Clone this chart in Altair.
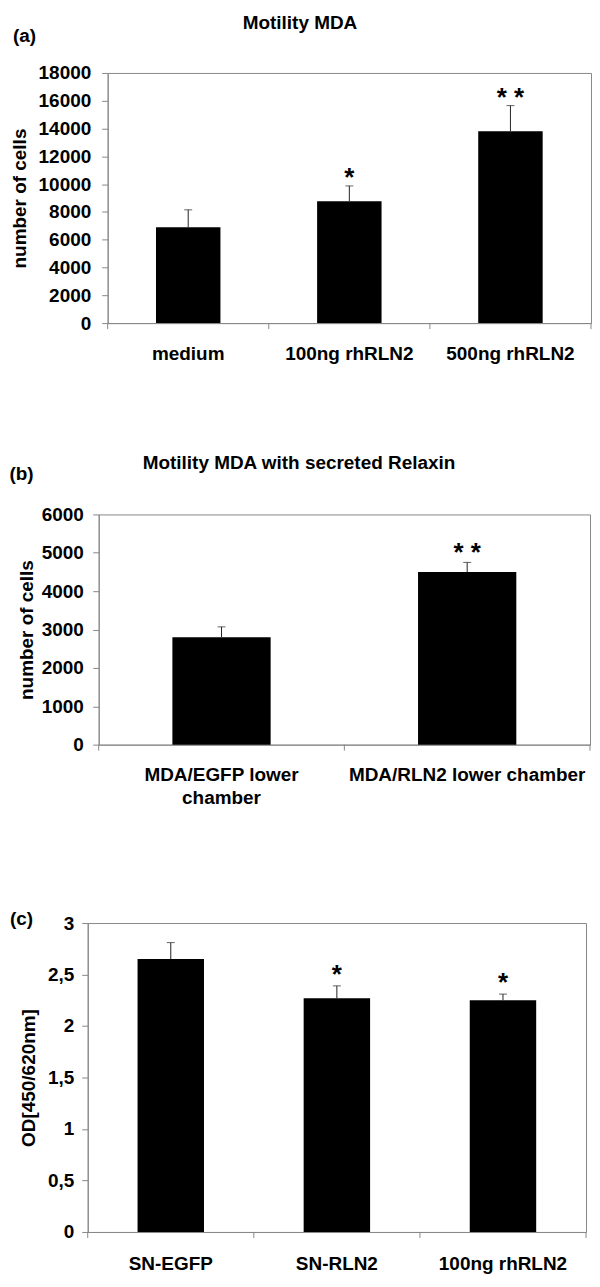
import altair as alt
import pandas as pd

FONT = "Liberation Sans"
GRAY = "#888888"

# ---------------- data ----------------
# (a) Motility MDA
cats_a = ["medium", "100ng rhRLN2", "500ng rhRLN2"]
vals_a = [6900, 8770, 13800]
errs_a = [8150, 9870, 15650]          # top of the error bar
stars_a = ["", "*", "* *"]
yticks_a = [0, 2000, 4000, 6000, 8000, 10000, 12000, 14000, 16000, 18000]

# (b) Motility MDA with secreted Relaxin
cats_b = ["MDA/EGFP lower|chamber", "MDA/RLN2 lower chamber"]
vals_b = [2800, 4500]
errs_b = [3070, 4750]
stars_b = ["", "* *"]
yticks_b = [0, 1000, 2000, 3000, 4000, 5000, 6000]

# (c) OD
cats_c = ["SN-EGFP", "SN-RLN2", "100ng rhRLN2"]
vals_c = [2.65, 2.27, 2.25]
errs_c = [2.81, 2.39, 2.31]
stars_c = ["", "*", "*"]
yticks_c = [0, 0.5, 1, 1.5, 2, 2.5, 3]


def panel(cats, vals, errs, stars, yticks, width, height, y_title,
          y_fmt, y_label_expr, y_lab_pad, y_title_pad, x_lab_pad, star_dy,
          title, title_pos, tag, tag_pos):
    df = pd.DataFrame({"cat": cats, "val": vals, "err": errs, "star": stars})
    step = width / len(cats)

    xs = alt.Scale(domain=cats, paddingInner=0.6, paddingOuter=0.3)
    x_axis = alt.Axis(title=None, labelAngle=0, ticks=False, tickSize=0,
                      labelPadding=x_lab_pad, labelFont=FONT,
                      labelFontWeight="bold", labelFontSize=19,
                      labelColor="black", domainColor=GRAY, domainWidth=1,
                      labelLimit=400, labelOverlap=False,
                      labelExpr="split(datum.label, '|')",
                      labelLineHeight=24)
    ys = alt.Scale(domain=[yticks[0], yticks[-1]], nice=False, zero=True)
    y_kwargs = dict(values=yticks, grid=False, tickSize=6, tickColor=GRAY,
                    domainColor=GRAY, labelPadding=y_lab_pad, labelFont=FONT,
                    labelFontWeight="bold", labelFontSize=19,
                    labelColor="black", title=y_title,
                    titlePadding=y_title_pad, titleFont=FONT,
                    titleFontWeight="bold", titleFontSize=19,
                    titleColor="black")
    if y_fmt:
        y_kwargs["format"] = y_fmt
    if y_label_expr:
        y_kwargs["labelExpr"] = y_label_expr
    y_axis = alt.Axis(**y_kwargs)

    X = alt.X("cat:N", scale=xs, axis=x_axis, sort=cats)
    base = alt.Chart(df)

    bars = base.mark_bar(color="black").encode(
        x=X, y=alt.Y("val:Q", scale=ys, axis=y_axis))
    err_line = base.mark_rule(color="#222222", strokeWidth=1).encode(
        x=X, y=alt.Y("val:Q", scale=ys, axis=y_axis), y2="err:Q")
    caps = base.mark_tick(color="#222222", thickness=1, size=8).encode(
        x=X, y=alt.Y("err:Q", scale=ys, axis=y_axis))
    star_txt = base.mark_text(font=FONT, fontWeight="bold", fontSize=26,
                              baseline="alphabetic", dy=star_dy,
                              color="black").encode(
        x=X, y=alt.Y("err:Q", scale=ys, axis=y_axis), text="star:N")
    # Excel-style category boundary ticks below the x axis
    bticks = base.mark_rule(color=GRAY, xOffset=-step / 2).encode(
        x=X, y=alt.value(height), y2=alt.value(height + 6))
    last_tick = base.transform_filter(alt.datum.cat == cats[-1]).mark_rule(
        color=GRAY, xOffset=step / 2).encode(
        x=X, y=alt.value(height), y2=alt.value(height + 6))

    layers = [bars, err_line, caps, star_txt, bticks, last_tick]

    if title:
        t = alt.Chart(pd.DataFrame({"t": [title]})).mark_text(
            font=FONT, fontWeight="bold", fontSize=19, align="center",
            baseline="middle", color="black").encode(
            text="t:N", x=alt.value(title_pos[0]), y=alt.value(title_pos[1]))
        layers.append(t)
    g = alt.Chart(pd.DataFrame({"t": [tag]})).mark_text(
        font=FONT, fontWeight="bold", fontSize=19, align="left",
        baseline="middle", color="black").encode(
        text="t:N", x=alt.value(tag_pos[0]), y=alt.value(tag_pos[1]))
    layers.append(g)

    return alt.layer(*layers).properties(
        width=width, height=height,
        view=alt.ViewBackground(stroke=GRAY, strokeWidth=1))


# plot-area lefts: a 107, b 99, c 87 ; rights about 592
chart_a = panel(cats_a, vals_a, errs_a, stars_a, yticks_a, 485, 251,
                "number of cells", "d", None, 11, 9, 21.5, 0,
                "Motility MDA", (193, -50.5), "(a)", (-95, -37.5))
chart_b = panel(cats_b, vals_b, errs_b, stars_b, yticks_b, 493, 231,
                "number of cells", "d", None, 9.5, 5, 20.5, -1,
                "Motility MDA with secreted Relaxin", (201, -52),
                "(b)", (-89.5, -41))
chart_c = panel(cats_c, vals_c, errs_c, stars_c, yticks_c, 500, 310,
                "OD[450/620nm]", None, "replace(toString(datum.value), '.', ',')",
                8, 9, 22.5, -3,
                None, None, "(c)", (-78, -4))

# 1px invisible spacer (zero-extent rect) so each panel keeps its own left edge
spacer = alt.Chart(pd.DataFrame({"v": [0]})).mark_rect(opacity=0).encode(
    x=alt.value(0), x2=alt.value(1), y=alt.value(0), y2=alt.value(1)
).properties(width=1, height=1)

row_a = alt.hconcat(spacer, chart_a, spacing=0)
row_b = alt.hconcat(spacer, chart_b, spacing=0)
row_c = alt.hconcat(spacer, chart_c, spacing=0)

inner = alt.vconcat(row_b, row_c, spacing=101)
chart = alt.vconcat(row_a, inner, spacing=89).properties(
    padding={"left": 0, "top": 3, "right": 0, "bottom": 0}
).configure_view(stroke=None)

chart.save("out.html", embed_options={"renderer": "svg", "actions": False})
